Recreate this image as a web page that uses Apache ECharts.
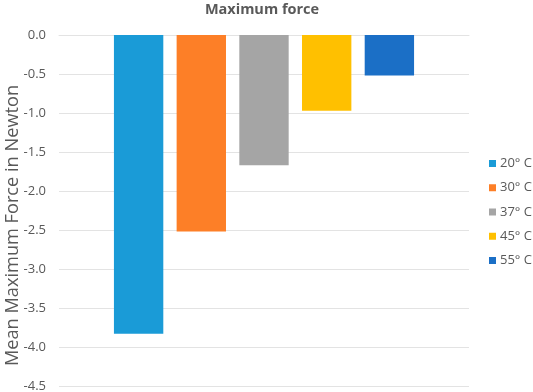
<!DOCTYPE html>
<html><head><meta charset="utf-8">
<script src="https://cdn.jsdelivr.net/npm/echarts@6/dist/echarts.min.js"></script>
<style>html,body{margin:0;padding:0;background:#fff}#c{width:533px;height:392px}</style>
</head><body><div id="c"></div>
<script>
var categories = [''];
var seriesNames = ['20° C', '30° C', '37° C', '45° C', '55° C'];
var seriesValues = [-3.83, -2.52, -1.67, -0.97, -0.52];
var yTicks = [0, -0.5, -1.0, -1.5, -2.0, -2.5, -3.0, -3.5, -4.0, -4.5];
var colors = ['#1A9BD7', '#FD7F27', '#A5A5A5', '#FFC000', '#1B6FC6'];

var FONT = '"Open Sans", "Noto Sans", sans-serif';
var chart = echarts.init(document.getElementById('c'), null, {renderer: 'canvas'});
var series = seriesNames.map(function (n, i) {
  return {
    name: n, type: 'bar', data: [seriesValues[i]],
    itemStyle: {color: colors[i]},
    barGap: '27%', barCategoryGap: '26.8%'
  };
});
chart.setOption({
  animation: false,
  backgroundColor: '#fff',
  title: {text: 'Maximum force', left: 257, top: -3, textAlign: 'center',
    textStyle: {fontFamily: FONT, fontSize: 14.5, fontWeight: 'bold', color: '#595959'}},
  legend: {orient: 'vertical', left: 484, top: 152, itemWidth: 7, itemHeight: 7, itemGap: 11.25,
    icon: 'rect', data: seriesNames,
    textStyle: {fontFamily: FONT, fontSize: 13, color: '#595959', padding: [0, 0, 0, -1]}},
  grid: {left: 59, right: 64, top: 35, bottom: 6, containLabel: false, outerBoundsMode: 'none'},
  xAxis: {type: 'category', data: categories, position: 'top',
    axisLine: {show: true, lineStyle: {color: '#E3E3E3'}}, axisTick: {show: false}, axisLabel: {show: false}},
  yAxis: {type: 'value', min: yTicks[yTicks.length - 1], max: yTicks[0], interval: 0.5,
    name: 'Mean Maximum Force in Newton', nameLocation: 'middle', nameGap: 37, nameMoveOverlap: false,
    nameTextStyle: {fontFamily: FONT, fontSize: 18.2, color: '#595959', padding: [0, 30, 0, 0]},
    axisLine: {show: false}, axisTick: {show: false},
    axisLabel: {fontFamily: FONT, fontSize: 13, color: '#595959', margin: 13,
      formatter: function (v) { return v.toFixed(1); }},
    splitLine: {lineStyle: {color: '#E3E3E3', width: 1}}},
  series: series
});
</script></body></html>
